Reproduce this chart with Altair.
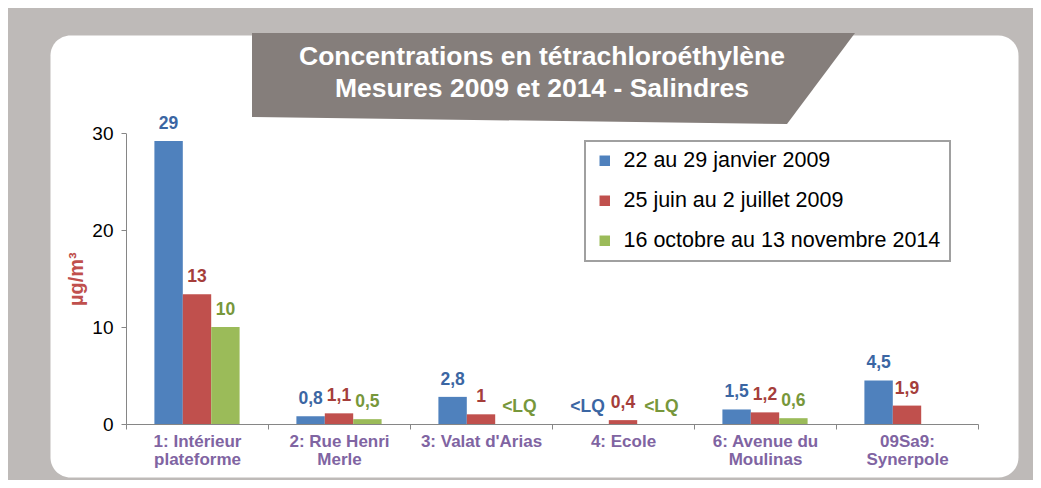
import altair as alt
import pandas as pd

# ---- data ----
categories = ["1: Intérieur\nplateforme", "2: Rue Henri\nMerle", "3: Valat d'Arias",
              "4: Ecole", "6: Avenue du\nMoulinas", "09Sa9:\nSynerpole"]
series = ["22 au 29 janvier 2009", "25 juin au 2 juillet 2009",
          "16 octobre au 13 novembre 2014"]
values_jan2009 = [29.2, 0.8, 2.8, None, 1.5, 4.5]
values_jun2009 = [13.4, 1.1, 1.0, 0.4, 1.2, 1.9]
values_oct2014 = [10.0, 0.5, None, None, 0.6, None]
labels_jan2009 = ["29", "0,8", "2,8", "<LQ", "1,5", "4,5"]
labels_jun2009 = ["13", "1,1", "1", "0,4", "1,2", "1,9"]
labels_oct2014 = ["10", "0,5", "<LQ", "<LQ", "0,6", ""]
title_lines = ["Concentrations en tétrachloroéthylène", "Mesures 2009 et 2014 - Salindres"]
y_ticks = [0, 10, 20, 30]
y_title = "µg/m³"

# ---- table ----
rows = []
for s, vals, lbls in zip(series, [values_jan2009, values_jun2009, values_oct2014],
                         [labels_jan2009, labels_jun2009, labels_oct2014]):
    for c, v, l in zip(categories, vals, lbls):
        if v is None and l == "":
            continue
        rows.append({"site": c, "period": s, "value": v,
                     "label": l, "ypos": v if v is not None else 0.0})
df = pd.DataFrame(rows)

# ---- styles ----
FONT = "Liberation Sans"
bar_colors = ["#4f81bd", "#c0504d", "#9bbb59"]
label_colors = ["#3b66a3", "#a53e3b", "#77973b"]
W, H = 968, 442
X_RANGE = [76, 928]
Y_RANGE = [389, 98.3]

x_enc = alt.X("site:N", sort=categories,
              scale=alt.Scale(domain=categories, range=X_RANGE, paddingInner=0, paddingOuter=0),
              axis=alt.Axis(title=None, tickBand="extent", domainColor="#868686",
                            tickColor="#868686", tickSize=5, labelAngle=0,
                            labelExpr="split(datum.label, '\\n')",
                            labelFont=FONT, labelFontSize=17, labelFontWeight="bold",
                            labelColor="#8064a2", labelLineHeight=18, labelPadding=4,
                            labelOverlap=False, labelLimit=300, offset=-(H - Y_RANGE[0])))
xo_enc = alt.XOffset("period:N", sort=series,
                     scale=alt.Scale(domain=series, paddingInner=0, paddingOuter=1))
y_scale = alt.Scale(domain=[0, 30], range=Y_RANGE, nice=False)

bars = alt.Chart(df).transform_filter("datum.value != null").mark_bar().encode(
    x=x_enc,
    xOffset=xo_enc,
    y=alt.Y("value:Q", scale=y_scale,
            axis=alt.Axis(values=y_ticks, grid=False, title=y_title, titleColor="#c0504d",
                          titleFont=FONT, titleFontSize=20, titleFontWeight="bold",
                          titlePadding=5, labelFont=FONT, labelFontSize=19,
                          labelColor="black", labelPadding=8, tickSize=5,
                          domainColor="#868686", tickColor="#868686", offset=-X_RANGE[0])),
    color=alt.Color("period:N", sort=series,
                    scale=alt.Scale(domain=series, range=bar_colors),
                    legend=alt.Legend(title=None, orient="none", legendX=535, legendY=106,
                                      direction="vertical")),
)

def label_layer(filter_expr, dx):
    return alt.Chart(df).transform_filter(filter_expr).mark_text(
        font=FONT, fontSize=17.5, fontWeight="bold", baseline="alphabetic", dy=-12, dx=dx
    ).encode(
        x=alt.X("site:N", sort=categories),
        xOffset=alt.XOffset("period:N", sort=series),
        y=alt.Y("ypos:Q", scale=y_scale),
        text="label:N",
        color=alt.Color("period:N", sort=series,
                        scale=alt.Scale(domain=series, range=label_colors), legend=None),
    )

labels_main = label_layer("datum.label != '<LQ'", 0)
labels_lq_left = label_layer(f"datum.label == '<LQ' && datum.period == '{series[0]}'", -7)
labels_lq_right = label_layer(f"datum.label == '<LQ' && datum.period == '{series[2]}'", 10)

one = pd.DataFrame({"k": [0]})
banner = alt.Chart(one).mark_point(
    shape="M -2.98 -0.42 L 3.05 -0.42 L 2.37 0.49 L -2.98 0.42 Z",
    size=40000, filled=True, opacity=1, color="#857e7b", strokeWidth=0
).encode(x=alt.value(500), y=alt.value(40))

title_text = alt.Chart(one).mark_text(
    font=FONT, fontSize=26.5, fontWeight="bold", color="white",
    align="center", baseline="alphabetic", lineHeight=32
).encode(x=alt.value(492), y=alt.value(30), text=alt.value(title_lines))

chart = alt.layer(
    banner, title_text, bars, labels_main, labels_lq_left, labels_lq_right
).resolve_scale(color="independent").properties(
    width=W, height=H,
    autosize=alt.AutoSizeParams(type="none"),
    padding={"left": 42, "top": 27, "right": 15, "bottom": 3},
    background="#bebab8",
).configure_view(
    fill="white", cornerRadius=20, strokeOpacity=0
).configure_legend(
    strokeColor="#a0a0a0", strokeWidth=2, fillColor="white", padding=9,
    labelFont=FONT, labelFontSize=21.5, labelColor="black", labelLimit=400,
    rowPadding=17, symbolType="square", symbolSize=110, symbolStrokeWidth=0,
    labelOffset=8,
)

chart.save("out.html", embed_options={"renderer": "svg", "actions": False})
